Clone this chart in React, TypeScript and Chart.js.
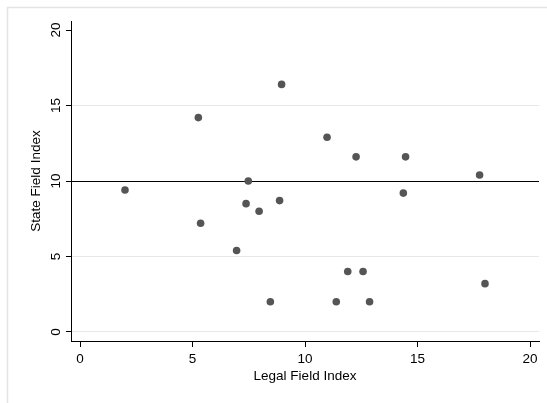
import React, { useEffect, useRef } from "react";
import { Chart, registerables } from "chart.js";

Chart.register(...registerables);

const legalIndex = [2, 5.26, 5.36, 6.96, 7.38, 7.48, 7.96, 8.46, 8.87, 8.96, 10.98, 11.39, 11.9, 12.27, 12.58, 12.87, 14.37, 14.47, 17.76, 18.0];
const stateIndex = [9.4, 14.2, 7.2, 5.4, 8.5, 10.0, 8.0, 2.0, 8.7, 16.4, 12.9, 2.0, 4.0, 11.6, 4.0, 2.0, 9.2, 11.6, 10.4, 3.2];
const xTicks = [0, 5, 10, 15, 20];
const yTicks = [0, 5, 10, 15, 20];
const xTitle = "Legal Field Index";
const yTitle = "State Field Index";
const refLineY = 10;

const FONT = '13.5px "Liberation Sans", Arial, sans-serif';

const textPlugin = {
  id: "stataText",
  beforeDraw(chart: any) {
    const ctx = chart.ctx;
    ctx.save();
    ctx.fillStyle = "#ffffff";
    ctx.fillRect(0, 0, chart.width, chart.height);
    ctx.strokeStyle = "#e4e4e4";
    ctx.lineWidth = 1.5;
    ctx.beginPath();
    ctx.moveTo(7.5, chart.height);
    ctx.lineTo(7.5, 7.5);
    ctx.lineTo(chart.width, 7.5);
    ctx.stroke();
    ctx.restore();
  },
  afterDraw(chart: any) {
    const ctx = chart.ctx;
    const xs = chart.scales.x;
    const ys = chart.scales.y;
    const area = chart.chartArea;
    ctx.save();
    ctx.fillStyle = "#000";
    ctx.font = FONT;
    // x tick labels
    ctx.textAlign = "center";
    ctx.textBaseline = "alphabetic";
    xTicks.forEach((v) => {
      ctx.fillText(String(v), xs.getPixelForValue(v), 363);
    });
    // x title
    ctx.fillText(xTitle, (area.left + area.right) / 2, 380);
    // y tick labels (rotated)
    yTicks.forEach((v) => {
      ctx.save();
      ctx.translate(60, ys.getPixelForValue(v));
      ctx.rotate(-Math.PI / 2);
      ctx.fillText(String(v), 0, 0);
      ctx.restore();
    });
    // y title
    ctx.save();
    ctx.translate(40, (area.top + area.bottom) / 2);
    ctx.rotate(-Math.PI / 2);
    ctx.fillText(yTitle, 0, 0);
    ctx.restore();
    ctx.restore();
  },
};

export default function App() {
  const ref = useRef<HTMLCanvasElement | null>(null);
  useEffect(() => {
    if (!ref.current) return;
    const points = legalIndex.map((x, i) => ({ x, y: stateIndex[i] }));
    const chart = new Chart(ref.current, {
      type: "scatter",
      data: {
        datasets: [
          {
            data: points,
            backgroundColor: "#555555",
            borderColor: "#555555",
            borderWidth: 0,
            pointRadius: 3.8,
            pointHoverRadius: 3.8,
          },
        ],
      },
      options: {
        responsive: false,
        animation: false,
        events: [],
        layout: { padding: { left: 0, top: 21, right: 8, bottom: 0 } },
        plugins: {
          legend: { display: false },
          tooltip: { enabled: false },
          title: { display: false },
        },
        scales: {
          x: {
            type: "linear",
            min: -0.4,
            max: 20.4,
            afterBuildTicks: (s: any) => {
              s.ticks = xTicks.map((v) => ({ value: v }));
            },
            afterFit: (s: any) => {
              s.height = 62;
            },
            ticks: { display: false },
            grid: {
              drawOnChartArea: false,
              drawTicks: true,
              tickLength: 6,
              tickColor: "#000",
              tickWidth: 1,
            },
            border: { display: true, color: "#000", width: 1 },
          },
          y: {
            type: "linear",
            min: -0.6,
            max: 20.6,
            afterBuildTicks: (s: any) => {
              s.ticks = yTicks.map((v) => ({ value: v }));
            },
            afterFit: (s: any) => {
              s.width = 71;
            },
            ticks: { display: false },
            grid: {
              drawOnChartArea: true,
              drawTicks: true,
              tickLength: 5,
              tickColor: "#000",
              tickWidth: 1,
              lineWidth: 1,
              color: (c: any) => {
                const v = c.tick ? c.tick.value : null;
                if (v === refLineY) return "#000000";
                if (v === 20) return "rgba(0,0,0,0)";
                return "#e8e8e8";
              },
            },
            border: { display: true, color: "#000", width: 1 },
          },
        },
      },
      plugins: [textPlugin],
    });
    return () => chart.destroy();
  }, []);
  return (
    <div style={{ position: "absolute", left: 0, top: 0, width: 547, height: 403 }}>
      <canvas ref={ref} width={547} height={403} />
    </div>
  );
}
